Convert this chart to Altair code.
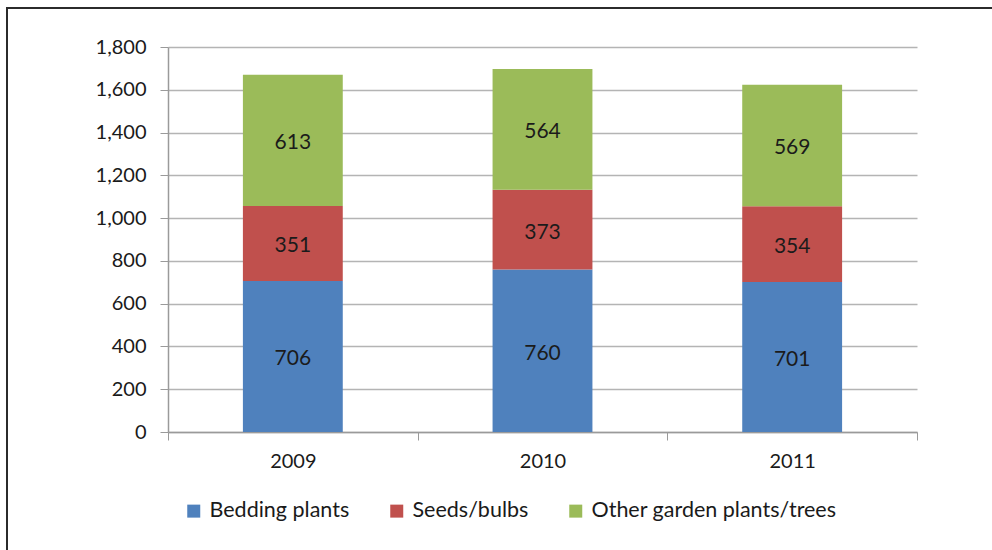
import altair as alt
import pandas as pd

# Stacked sales by plant group for each year
years = ["2009", "2010", "2011"]
series = ["Bedding plants", "Seeds/bulbs", "Other garden plants/trees"]
bedding = [706, 760, 701]
seeds = [351, 373, 354]
other = [613, 564, 569]
colors = ["#4F81BD", "#C0504D", "#9BBB59"]
y_ticks = [0, 200, 400, 600, 800, 1000, 1200, 1400, 1600, 1800]

rows = []
for i, yr in enumerate(years):
    for k, (name, vals) in enumerate(zip(series, [bedding, seeds, other])):
        rows.append({"year": yr, "series": name, "order": k, "value": vals[i]})
df = pd.DataFrame(rows)

W, H = 749, 385
LEFT, TOP = 168, 47
FONT = "Lato"

base = alt.Chart(df)

bars = base.mark_bar(width=alt.RelativeBandSize(0.4)).encode(
    x=alt.X(
        "year:N",
        sort=years,
        scale=alt.Scale(paddingInner=0, paddingOuter=0),
        axis=alt.Axis(
            title=None,
            labelAngle=0,
            labelFont=FONT,
            labelFontSize=20,
            labelColor="#1a1a1a",
            labelPadding=11,
            tickBand="extent",
            tickSize=8,
            tickColor="#9a9a9a",
            domainColor="#9a9a9a",
            domainWidth=1.5,
            grid=False,
        ),
    ),
    y=alt.Y(
        "value:Q",
        stack="zero",
        scale=alt.Scale(domain=[0, 1800], nice=False),
        axis=alt.Axis(
            title=None,
            values=y_ticks,
            format=",d",
            labelFont=FONT,
            labelFontSize=20,
            labelColor="#1a1a1a",
            labelPadding=14,
            tickSize=8,
            tickColor="#9a9a9a",
            domainColor="#9a9a9a",
            domainWidth=1.5,
            gridColor="#b4b4b4",
            gridWidth=1.5,
        ),
    ),
    color=alt.Color(
        "series:N",
        sort=series,
        scale=alt.Scale(domain=series, range=colors),
        legend=alt.Legend(
            title=None,
            orient="none",
            direction="horizontal",
            legendX=15,
            legendY=453,
            symbolType="square",
            symbolSize=169,
            symbolStrokeWidth=0,
            labelFont=FONT,
            labelFontSize=21.5,
            labelColor="#1a1a1a",
            labelOffset=5,
            labelLimit=0,
            columnPadding=36,
        ),
    ),
    order=alt.Order("order:Q"),
)

labels = base.transform_stack(
    stack="value",
    groupby=["year"],
    sort=[alt.SortField("order")],
    as_=["v0", "v1"],
).transform_calculate(
    mid="(datum.v0 + datum.v1) / 2"
).mark_text(font=FONT, fontSize=21, color="#1b1b1b", dy=3).encode(
    x=alt.X("year:N", sort=years),
    y=alt.Y("mid:Q"),
    text=alt.Text("value:Q"),
)

# Thin frame around the whole figure
frame = alt.Chart(pd.DataFrame({"f": [0]})).mark_rect(
    fillOpacity=0, stroke="#2b2b2b", strokeWidth=2
).encode(
    x=alt.value(7 - LEFT),
    x2=alt.value(992 - LEFT + 20),
    y=alt.value(8 - TOP),
    y2=alt.value(550 - TOP + 20),
)

chart = (
    alt.layer(bars, labels, frame)
    .properties(
        width=W,
        height=H,
        autosize=alt.AutoSizeParams(type="none"),
        padding={"left": LEFT, "top": TOP, "right": 992 - LEFT - W, "bottom": 550 - TOP - H},
        background="white",
    )
    .configure_view(stroke=None)
)

chart.save("out.html", embed_options={"renderer": "svg", "actions": False})
